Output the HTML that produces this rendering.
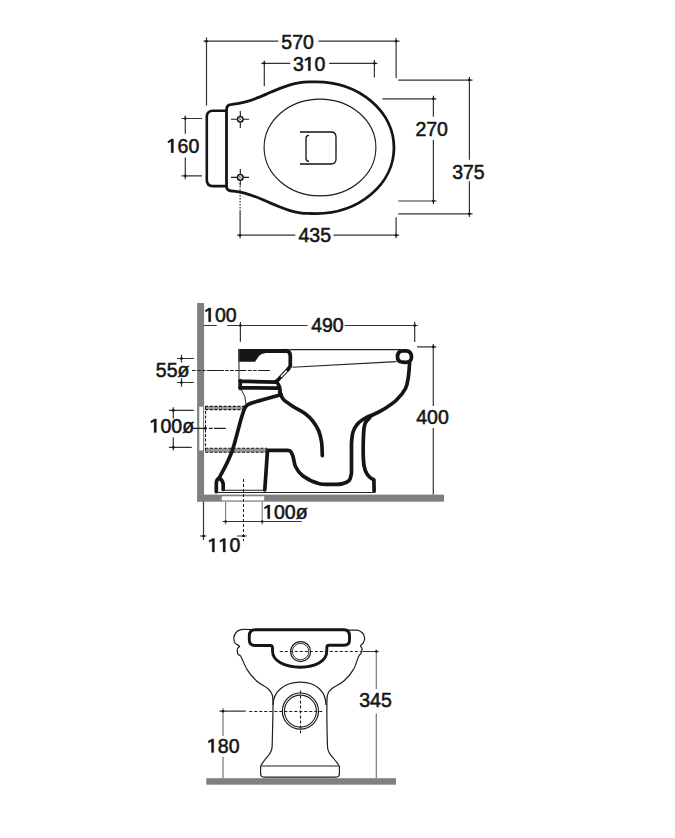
<!DOCTYPE html>
<html><head><meta charset="utf-8"><style>
html,body{margin:0;padding:0;background:#fff;}
svg{display:block;}
text{font-family:"Liberation Sans",sans-serif;font-size:19.5px;fill:#161616;stroke:#161616;stroke-width:0.55px;}
</style></head><body>
<svg width="675" height="838" viewBox="0 0 675 838">
<g fill="none" stroke-linecap="butt">
<!-- ===== TOP VIEW ===== -->
<g stroke="#333" stroke-width="1.2">
 <path d="M206.5,37.5V105.5 M396.1,38V78 M206.5,41.2H278.3 M318.5,41.2H399.5 M203.5,41.2H209.5"/>
 <path d="M264.3,60.4V86.3 M374.4,60V77.6 M261.3,63.3H290.2 M329.1,63.3H377.4"/>
 <path d="M398.3,80.1H472.5 M398.3,213.8H472.5 M469.4,77V159.7 M469.4,181.3V217"/>
 <path d="M382.4,98.8H436.5 M398.3,201H436.5 M433.4,95.8V116.7 M433.4,140V204"/>
 <path d="M181.5,118.5H202 M181.5,175.9H202 M185.3,115.4V133.7 M185.3,157.4V179.3"/>
 <path d="M240.1,210V238.3 M396.1,217.3V238.3 M237.1,235.2H295.3 M333.5,235.2H399.1"/>
 <path d="M240.1,183V210" stroke-dasharray="1.5,1.5"/>
</g>
<g stroke="#151515" stroke-width="2.6" stroke-linejoin="round">
 <path d="M226.5,110.8H213Q206.8,110.8 206.8,117V180Q206.8,186.1 213,186.1H226.5"/>
 <path d="M226.5,186V110Q226.5,104.4 232,104.4C233.3,104.2 237.0,103.8 240.0,103.2C243.0,102.6 246.7,101.6 250.0,100.6C253.3,99.5 256.7,98.2 260.0,96.9C263.3,95.6 266.7,93.9 270.0,92.5C273.3,91.1 276.7,89.7 280.0,88.4C283.3,87.1 286.7,85.8 290.0,84.8C293.3,83.8 296.7,83.1 300.0,82.6C303.3,82.1 307.3,82.0 310.0,81.9C312.7,81.8 315.0,81.8 316.0,81.8A78,65.9 0 0 1 316,213.6C315.0,213.6 312.7,213.6 310.0,213.5C307.3,213.4 303.3,213.3 300.0,212.8C296.7,212.3 293.3,211.6 290.0,210.6C286.7,209.6 283.3,208.3 280.0,207.0C276.7,205.7 273.3,204.3 270.0,202.9C266.7,201.5 263.3,199.8 260.0,198.5C256.7,197.1 253.3,195.8 250.0,194.8C246.7,193.8 243.0,192.8 240.0,192.2C237.0,191.6 233.3,191.2 232.0,191.0Q226.5,191.0 226.5,186Z" stroke-width="2.8"/>
</g>
<g stroke="#1a1a1a" stroke-width="1.1">
 <ellipse cx="320" cy="147.5" rx="55.9" ry="48.4"/>
 <path d="M300,132H331Q336,132 336,137V159Q336,164 331,164H300" stroke-width="1.3" stroke="#111"/>
 <path d="M309,135.3Q306,135.3 306,138.3V158.3Q306,161.3 309,161.3" stroke-width="1.3" stroke="#111"/>
 <path d="M231,119.3H249 M240.3,111V127.9 M231,177.4H249 M240.3,169V185.5"/>
</g>
<g stroke="#1a1a1a" stroke-width="1.5" fill="#fff">
 <circle cx="240.3" cy="119.3" r="2.8"/>
 <circle cx="240.3" cy="177.4" r="2.8"/>
</g>
<path d="M238.8,117.8L241.8,120.8M241.8,117.8L238.8,120.8M238.8,175.9L241.8,178.9M241.8,175.9L238.8,178.9" stroke="#555" stroke-width="0.8"/>
<path d="M328.8,137V160" stroke="#eee" stroke-width="0.5"/>

<!-- ===== SIDE VIEW ===== -->
<rect x="197.1" y="303" width="7" height="198.4" fill="#808080"/>
<rect x="197.3" y="494.6" width="246.7" height="7.1" fill="#808080"/>
<rect x="199.3" y="406.7" width="3.7" height="43.7" fill="#fff"/>
<rect x="221.8" y="496.3" width="42.4" height="4.1" fill="#fff"/>
<rect x="205.2" y="406.4" width="39" height="3.2" fill="#999"/>
<rect x="205.2" y="448.3" width="62.5" height="4" fill="#999"/>
<g stroke="#1a1a1a" stroke-width="1.1" stroke-dasharray="3,1.6">
 <path d="M205.2,406.4H244 M205.2,409.6H243 M205.2,448.3H267 M205.2,452.3H267 M205.5,406.4V452.3"/>
</g>
<g stroke="#333" stroke-width="1.2">
 <path d="M204,325.5H216.7 M227.2,325.5H307.6 M344.8,325.5H417.7 M240.4,322.1V341.7 M414.7,321.7V342"/>
 <path d="M417,346.9H436.3 M433.3,343.9V406 M433.3,428V494.6"/>
 <path d="M177,358.5H194 M177,382.5H194 M181.5,354.8V362.5 M181.5,378V386.8"/>
 <path d="M168.9,410.4H193.8 M168.9,447.3H191.8 M173.3,407.2V418.4 M173.3,437.4V450.6"/>
 <path d="M203.5,501.4V539.9 M200,536H206.5 M237,536H246.8"/>
 <path d="M222.7,521.5H301.7"/>
</g>
<g stroke="#777" stroke-width="1.1">
 <path d="M225.6,502V524.5 M262.2,502V524.5"/>
</g>
<g stroke="#1e1e1e" stroke-width="1.1">
 <path d="M191.9,370.5H195.8 M197.1,370.5H200.7 M202.0,370.5H205.6 M206.9,370.5H223.9 M225.2,370.5H228.7 M230.0,370.5H233.9 M235.2,370.5H246.3 M247.9,370.5H251.8 M253.1,370.5H256.7 M258.0,370.5H269.8"/>
 <path d="M192.6,428.4H207.0 M208.9,428.4H212.8 M214.0,428.4H225.8"/>
</g>
<path d="M243.5,479V541" stroke="#222" stroke-width="1" stroke-dasharray="3,2"/>

<path d="M238.3,349H289.5V353H266Q261,353.5 259,356L255,361.8H238.3Z" fill="#151515"/>
<path d="M239,349V380" stroke="#444" stroke-width="1.2"/>
<path d="M290,349.7H401" stroke="#222" stroke-width="1.3"/>
<path d="M292.4,367.3L396.2,361.6" stroke="#222" stroke-width="1.1"/>
<g stroke="#151515" stroke-width="3.7" stroke-linejoin="round" stroke-linecap="round">
 <path d="M285,350.6Q290.3,350.6 290.3,356V366L288,369.5"/>
 
 <path d="M397.5,357Q397.5,350.8 403,350.8H406Q411.5,351 411.5,357Q411.5,362.5 405,362.3L401,361.8Q397.5,361.2 397.5,357Z"/>
 <path d="M409.6,362.5C409.4,364.9 409.1,372.3 408.4,376.6C407.7,380.9 407.5,384.6 405.5,388.5C403.5,392.4 400.1,396.5 396.5,400.0C392.9,403.5 387.4,406.9 383.7,409.3C380.0,411.7 377.3,412.7 374.1,414.2C370.9,415.7 367.4,416.9 364.6,418.5C361.8,420.1 359.4,421.8 357.5,424.0C355.6,426.2 354.0,429.0 353.0,432.0C352.0,435.0 351.9,438.9 351.6,441.9C351.4,444.9 351.5,444.8 351.5,450.0C351.5,455.2 351.5,469.2 351.5,473.0C351.1,474.3 350.7,478.8 349.1,480.6C347.5,482.4 344.3,483.3 341.9,483.9C339.5,484.5 338.6,484.5 334.7,484.4C330.8,484.3 324.0,484.9 318.7,483.5C313.4,482.1 306.5,478.5 302.7,475.7C298.9,472.9 297.2,470.1 295.6,466.8C294.0,463.5 293.8,458.7 292.9,456.1C292.0,453.5 291.5,452.2 290.5,451.2C289.5,450.2 287.6,450.4 287.0,450.3H267.5L264.8,489.8"/>
 <path d="M370.5,416.7C369.6,417.8 366.3,420.5 365.2,423.3C364.1,426.1 363.9,427.3 363.6,433.4C363.3,439.4 363.1,453.4 363.4,459.6C363.7,465.8 364.2,467.5 365.2,470.4C366.2,473.3 367.9,475.3 369.4,476.9C370.8,478.5 373.1,479.4 373.9,479.9L374.1,491.2"/>
 <path d="M239.8,381.1L276,382.2 M239.8,387.6L277.5,388.2 M240.2,380.5V388.5"/>
 <path d="M276,381.5Q280.5,385 280.2,394.5"/>
 <path d="M281,394.5L279.6,392.1"/>
 <path d="M280.5,394.5C281.1,395.4 281.8,397.9 284.0,400.0C286.2,402.1 290.3,404.7 293.9,407.0C297.4,409.3 302.1,411.3 305.3,413.7C308.5,416.1 310.8,418.4 313.0,421.3C315.2,424.2 317.3,427.3 318.7,430.8C320.1,434.3 321.0,438.2 321.6,442.3C322.2,446.4 322.2,453.5 322.3,455.7"/>
 <path d="M281.0,394.5C279.8,394.9 277.4,395.7 273.5,396.8C269.6,397.9 262.1,399.9 257.9,401.1C253.7,402.4 250.7,403.1 248.5,404.3C246.3,405.5 246.0,405.6 244.6,408.5C243.2,411.4 241.7,417.1 240.3,421.7C239.0,426.3 237.7,431.6 236.5,436.0C235.3,440.4 234.4,444.2 233.0,448.3C231.6,452.4 230.1,456.2 228.3,460.3C226.5,464.4 223.6,469.7 222.0,472.7C220.4,475.7 219.5,477.3 219.0,478.2"/>
 <path d="M216.3,491.7V483Q216.5,479.5 219,478.2Q222.6,479.5 223.2,484V489.5"/>
</g>
<path d="M289,368.3L276,382" stroke="#151515" stroke-width="3.6"/>
<path d="M286.8,370.7L281,376.8" stroke="#fff" stroke-width="1.6"/>
<path d="M241.3,389.7Q246,396 246,404.2" stroke="#222" stroke-width="1"/>
<path d="M223,490.3H265 M216,492.5H374" stroke="#222" stroke-width="1.1"/>

<!-- ===== FRONT VIEW ===== -->
<rect x="206.3" y="778.2" width="189.7" height="6.5" fill="#808080"/>
<g stroke="#1e1e1e" stroke-width="1.2" stroke-linejoin="round">
 <path d="M252.0,629.6C250.2,629.6 243.7,629.1 241.0,629.6C238.3,630.1 237.2,631.1 236.0,632.5C234.8,633.9 234.1,636.2 233.9,638.0C233.7,639.8 234.1,641.6 235.0,643.0C235.9,644.4 239.1,645.3 239.5,646.2C239.9,647.1 237.8,647.3 237.5,648.6C237.2,649.9 237.4,652.9 238.0,654.2C238.6,655.5 239.4,653.9 240.9,656.5C242.4,659.1 244.5,665.5 247.1,669.6C249.7,673.7 253.1,677.8 256.6,681.0C260.1,684.2 265.5,686.4 268.1,688.7C270.7,691.0 271.5,692.3 272.3,695.0C273.1,697.7 273.0,697.5 273.0,705.0C273.0,712.5 272.5,732.7 272.3,740.0C272.1,747.3 272.3,746.7 271.8,749.0C271.3,751.3 270.6,752.2 269.5,754.0C268.4,755.8 266.4,757.6 265.0,759.5C263.6,761.4 261.6,764.5 260.9,765.5"/>
 <path d="M347.0,630.2C348.7,630.2 354.4,629.8 357.0,630.2C359.6,630.6 361.0,631.6 362.3,632.8C363.6,634.0 364.4,635.9 364.6,637.5C364.8,639.1 364.2,641.1 363.5,642.5C362.8,643.9 360.9,644.8 360.6,645.8C360.4,646.8 361.9,647.3 362.0,648.6C362.1,649.9 361.6,652.1 361.0,653.4C360.4,654.7 359.9,653.8 358.6,656.5C357.3,659.2 355.8,665.5 353.4,669.6C350.9,673.7 347.5,677.9 343.9,681.0C340.3,684.1 334.7,686.3 332.0,688.5C329.3,690.7 328.7,691.2 327.8,694.0C326.9,696.8 327.0,697.3 326.9,705.0C326.8,712.7 327.1,732.7 327.3,740.0C327.5,747.3 327.4,746.7 327.8,749.0C328.2,751.3 328.9,752.2 330.0,754.0C331.1,755.8 333.0,757.6 334.5,759.5C336.0,761.4 338.2,764.5 339.0,765.5"/>
 <path d="M260.6,766H339.4V774Q339.4,777.2 335,777.2H265Q260.6,777.2 260.6,774Z"/>
 <path d="M273,705C273,692 284,682.2 300.4,682.2C316.8,682.2 326,692 326,705"/>
 <circle cx="300.6" cy="651.6" r="10"/>
 <circle cx="300.6" cy="651.6" r="8.2" stroke-width="0.9"/>
 <circle cx="300.4" cy="711.1" r="18.1"/>
 <circle cx="300.4" cy="711.1" r="16" stroke-width="1.1"/>
</g>
<path d="M255,629.8H344Q349.5,630 349.5,636V640Q349.5,645.3 344,645.3H329Q326.8,645.3 326.8,648V651C326.8,661 316,667.2 300.3,667.2C284.5,667.2 272.5,661 272.5,651V648Q272.5,645.5 270.5,645.5H255Q249.3,645.5 249.3,640V636Q249.3,629.8 255,629.8Z" stroke="#151515" stroke-width="2.9"/>
<g stroke="#1a1a1a" stroke-width="1.1" stroke-dasharray="3,2">
 <path d="M279.8,651.5H361"/>
 <path d="M249.3,711.5H323.3 M300.5,690.4V733.3"/>
</g>
<g stroke="#333" stroke-width="1.2">
 <path d="M362.5,651.5H378.7 M219.4,711.2H245.7"/>
</g>
<g stroke="#777" stroke-width="1.2">
 <path d="M376.3,649.4V689 M376.3,713.4V778.4 M223,707.9V735.9 M223,756.8V778.2"/>
</g>
</g>
<circle cx="206.5" cy="41.2" r="1.3" fill="#111"/><circle cx="396.1" cy="41.2" r="1.3" fill="#111"/><circle cx="264.3" cy="63.3" r="1.3" fill="#111"/><circle cx="374.4" cy="63.3" r="1.3" fill="#111"/><circle cx="469.4" cy="80.1" r="1.3" fill="#111"/><circle cx="469.4" cy="213.8" r="1.3" fill="#111"/><circle cx="433.4" cy="98.8" r="1.3" fill="#111"/><circle cx="433.4" cy="201.0" r="1.3" fill="#111"/><circle cx="185.3" cy="118.5" r="1.3" fill="#111"/><circle cx="185.3" cy="175.9" r="1.3" fill="#111"/><circle cx="240.1" cy="235.2" r="1.3" fill="#111"/><circle cx="396.1" cy="235.2" r="1.3" fill="#111"/><circle cx="240.4" cy="325.5" r="1.3" fill="#111"/><circle cx="414.7" cy="325.5" r="1.3" fill="#111"/><circle cx="433.3" cy="346.9" r="1.3" fill="#111"/><circle cx="181.5" cy="358.5" r="1.3" fill="#111"/><circle cx="181.5" cy="382.5" r="1.3" fill="#111"/><circle cx="173.3" cy="410.4" r="1.3" fill="#111"/><circle cx="173.3" cy="447.3" r="1.3" fill="#111"/><circle cx="203.5" cy="536.0" r="1.3" fill="#111"/><circle cx="243.5" cy="536.0" r="1.3" fill="#111"/><circle cx="225.6" cy="521.5" r="1.3" fill="#111"/><circle cx="262.2" cy="521.5" r="1.3" fill="#111"/><circle cx="376.3" cy="651.5" r="1.3" fill="#111"/><circle cx="223.0" cy="711.2" r="1.3" fill="#111"/><circle cx="205.3" cy="428.4" r="1.3" fill="#111"/>
<text x="297.60" y="48.9" text-anchor="middle">570</text>
<text x="309.20" y="70.7" text-anchor="middle">3 0</text>
<text x="431.70" y="135.9" text-anchor="middle">270</text>
<text x="468.40" y="178.5" text-anchor="middle">375</text>
<text x="183.00" y="152.7" text-anchor="middle"> 60</text>
<text x="314.80" y="242.0" text-anchor="middle">435</text>
<text x="220.40" y="321.7" text-anchor="middle"> 00</text>
<text x="327.40" y="331.8" text-anchor="middle">490</text>
<text x="432.50" y="424.3" text-anchor="middle">400</text>
<text x="172.60" y="376.7" text-anchor="middle">55ø</text>
<text x="171.90" y="432.6" text-anchor="middle"> 00ø</text>
<text x="285.40" y="518.7" text-anchor="middle"> 00ø</text>
<text x="224.06" y="552.0" text-anchor="middle">  0</text>
<text x="375.50" y="707.3" text-anchor="middle">345</text>
<text x="223.30" y="752.6" text-anchor="middle"> 80</text>
<path d="M308.20,59.40L305.45,61.00L304.75,59.40L308.45,57.10H310.50V70.70H308.20Z M171.14,141.40L168.39,143.00L167.69,141.40L171.39,139.10H173.44V152.70H171.14Z M208.54,310.40L205.79,312.00L205.09,310.40L208.79,308.10H210.84V321.70H208.54Z M154.08,421.30L151.33,422.90L150.63,421.30L154.33,419.00H156.38V432.60H154.08Z M267.58,507.40L264.83,509.00L264.13,507.40L267.83,505.10H269.88V518.70H267.58Z M212.20,540.70L209.45,542.30L208.75,540.70L212.45,538.40H214.50V552.00H212.20Z M223.06,540.70L220.31,542.30L219.61,540.70L223.31,538.40H225.36V552.00H223.06Z M211.44,741.30L208.69,742.90L207.99,741.30L211.69,739.00H213.74V752.60H211.44Z" fill="#161616" stroke="#161616" stroke-width="0.3"/>
</svg>
</body></html>
